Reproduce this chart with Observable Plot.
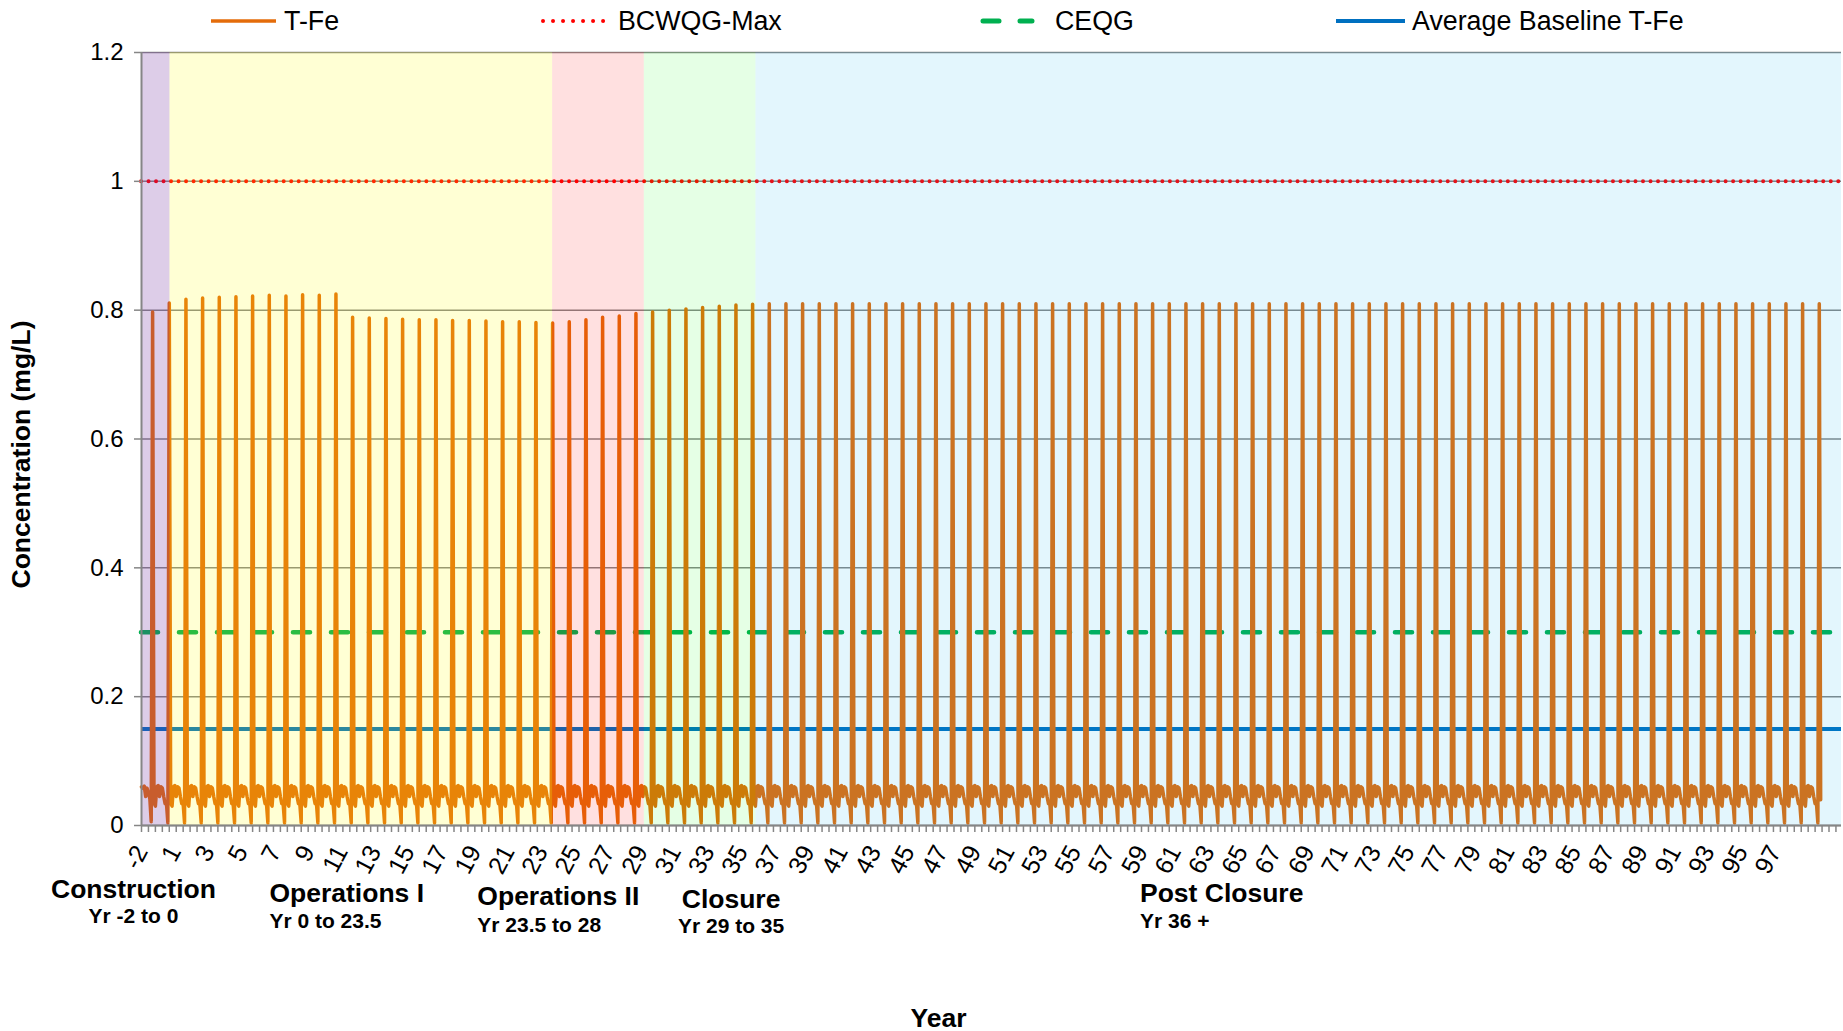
<!DOCTYPE html>
<html><head><meta charset="utf-8">
<script src="https://cdn.jsdelivr.net/npm/d3@7"></script>
<script src="https://cdn.jsdelivr.net/npm/@observablehq/plot@0.6"></script>
<style>
html,body{margin:0;padding:0;background:#fff;}
#wrap{position:relative;width:1843px;height:1031px;font-family:"Liberation Sans",Arial,sans-serif;}
#legend{position:absolute;left:0;top:0;}
#chart{position:absolute;left:0;top:0;}
</style></head><body><div id="wrap"><div id="chart"></div></div>
<script>
// ---- data ----
const seriesNames = ["T-Fe", "BCWQG-Max", "CEQG", "Average Baseline T-Fe"];
const bcwqgMax = 1.0;
const ceqg = 0.3;
const avgBaseline = 0.15;

// monthly T-Fe: months before the first spike
const leadIn = [0.060, 0.058, 0.061, 0.045, 0.058, 0.050, 0.042, 0.006];
// yearly spike peaks (one per year)
const peakValues = [
  0.797, 0.811, 0.817, 0.819, 0.820, 0.821, 0.822, 0.823, 0.822, 0.824, 0.823, 0.825,
  0.789, 0.788, 0.787, 0.786, 0.785, 0.785, 0.784, 0.784, 0.783, 0.782, 0.782, 0.781,
  0.780, 0.782, 0.785, 0.789, 0.791, 0.795,
  0.797, 0.800, 0.802, 0.804, 0.806, 0.808, 0.809,
  0.810, 0.810, 0.810, 0.810, 0.810, 0.810, 0.810, 0.810, 0.810, 0.810, 0.810, 0.810,
  0.810, 0.810, 0.810, 0.810, 0.810, 0.810, 0.810, 0.810, 0.810, 0.810, 0.810, 0.810,
  0.810, 0.810, 0.810, 0.810, 0.810, 0.810, 0.810, 0.810, 0.810, 0.810, 0.810, 0.810,
  0.810, 0.810, 0.810, 0.810, 0.810, 0.810, 0.810, 0.810, 0.810, 0.810, 0.810, 0.810,
  0.810, 0.810, 0.810, 0.810, 0.810, 0.810, 0.810, 0.810, 0.810, 0.810, 0.810, 0.810,
  0.810, 0.810, 0.810, 0.810
];
// monthly low-flow values between two spikes (11 months, ending in the pre-spike dip)
const cyclePattern = [0.035, 0.030, 0.060, 0.062, 0.045, 0.060, 0.058, 0.045, 0.034, 0.033, 0.004];
const tailValue = 0.040;

const phaseNames = ["Construction", "Operations I", "Operations II", "Closure", "Post Closure"];
const phaseYears = ["Yr -2 to 0", "Yr 0 to 23.5", "Yr 23.5 to 28", "Yr 29 to 35", "Yr 36 +"];
const phaseStart = [0, 20.5, 296, 362, 442.4];     // in months from chart start
const phaseEnd = [20.5, 296, 362, 442.4, 1224];
const phaseColors = ["#7030A0", "#FFFF00", "#FF0000", "#00FF00", "#00B0F0"];
const phaseOpacity = [0.24, 0.17, 0.12, 0.10, 0.11];

const xTickPos = [0, 24, 48, 72, 96, 120, 144, 168, 192, 216, 240, 264, 288, 312, 336, 360, 384, 408, 432, 456,
  480, 504, 528, 552, 576, 600, 624, 648, 672, 696, 720, 744, 768, 792, 816, 840, 864, 888, 912, 936,
  960, 984, 1008, 1032, 1056, 1080, 1104, 1128, 1152, 1176];
const xTickLabels = ["-2", "1", "3", "5", "7", "9", "11", "13", "15", "17", "19", "21", "23", "25", "27", "29",
  "31", "33", "35", "37", "39", "41", "43", "45", "47", "49", "51", "53", "55", "57", "59", "61", "63", "65",
  "67", "69", "71", "73", "75", "77", "79", "81", "83", "85", "87", "89", "91", "93", "95", "97"];
const yTicks = [0, 0.2, 0.4, 0.6, 0.8, 1, 1.2];
const yTickLabels = ["0", "0.2", "0.4", "0.6", "0.8", "1", "1.2"];

// ---- build monthly table ----
const tfeValues = [];
leadIn.forEach(v => tfeValues.push(v));
peakValues.forEach((p, k) => {
  tfeValues.push(p);
  if (k < peakValues.length - 1) cyclePattern.forEach(v => tfeValues.push(v));
});
tfeValues.push(tailValue);
const tfe = tfeValues.map((v, m) => ({m, v}));

const xLabelMap = new Map(xTickPos.map((p, i) => [p, xTickLabels[i]]));
const yLabelMap = new Map(yTicks.map((t, i) => [t, yTickLabels[i]]));
const minorTicks = d3.range(0, 1225, 5);

const gray = "#868686";
const FONT = '"Liberation Sans", Arial, sans-serif';

const phaseRects = phaseStart.map((s, i) =>
  Plot.rect([i], {x1: () => s, x2: () => phaseEnd[i], y1: () => 0, y2: () => 1.2,
    fill: phaseColors[i], fillOpacity: phaseOpacity[i], inset: 0}));

function phaseLabel(i, xm, anchor, dyName, dySub) {
  return [
    Plot.text([phaseNames[i]], {x: () => xm, frameAnchor: "bottom", dy: dyName, text: d => d,
      textAnchor: anchor, lineAnchor: "middle", fontWeight: "bold", fontSize: 26.5, fill: "black"}),
    Plot.text([phaseYears[i]], {x: () => xm, frameAnchor: "bottom", dy: dySub, text: d => d,
      textAnchor: anchor, lineAnchor: "middle", fontWeight: "bold", fontSize: 21, fill: "black"})
  ];
}

const chart = Plot.plot({
  width: 1843,
  height: 1031,
  marginLeft: 141,
  marginRight: 2,
  marginTop: 52,
  marginBottom: 206,
  style: {fontFamily: FONT, fontSize: "22px", color: "black", background: "white", overflow: "visible"},
  x: {domain: [0, 1224], label: null},
  y: {domain: [0, 1.2], label: null},
  marks: [
    Plot.gridY(yTicks, {stroke: gray, strokeOpacity: 1, strokeWidth: 1.5}),
    Plot.ruleY([avgBaseline], {stroke: "#0070C0", strokeWidth: 4}),
    Plot.ruleY([ceqg], {stroke: "#00B050", strokeWidth: 4.6, strokeDasharray: "17 21", strokeLinecap: "round"}),
    Plot.ruleY([bcwqgMax], {stroke: "#FF0000", strokeWidth: 4, strokeDasharray: "0.01 7.5", strokeLinecap: "round"}),
    Plot.line(tfe, {x: "m", y: "v", stroke: "#E46C0A", strokeWidth: 3.5, strokeLinejoin: "round"}),
    ...phaseRects,
    Plot.ruleX([0], {stroke: gray, strokeWidth: 2}),
    Plot.ruleY([0], {stroke: gray, strokeWidth: 2}),
    Plot.axisY(yTicks, {tickFormat: d => yLabelMap.get(d), tickSize: 7, tickPadding: 11, fontSize: 24, stroke: gray, strokeWidth: 1.5}),
    Plot.axisX(minorTicks, {tickFormat: () => "", tickSize: 7, stroke: gray, strokeWidth: 1.5}),
    Plot.axisX(xTickPos, {tickFormat: d => xLabelMap.get(d), tickSize: 0, tickPadding: 22, tickRotate: -62, fontSize: 25}),
    ...phaseLabel(0, -5.8, "middle", 63.6, 90.6),
    ...phaseLabel(1, 92.1, "start", 68, 95.5),
    ...phaseLabel(2, 241.8, "start", 71, 100),
    ...phaseLabel(3, 424.5, "middle", 74, 101),
    ...phaseLabel(4, 718.9, "start", 68, 96),
    Plot.text(["Concentration (mg/L)"], {frameAnchor: "left", dx: -120, dy: 15.5, rotate: -90, text: d => d,
      textAnchor: "middle", lineAnchor: "middle", fontWeight: "bold", fontSize: 26.5, fill: "black"}),
    Plot.text(["Year"], {frameAnchor: "bottom", dx: -53, dy: 193, text: d => d,
      textAnchor: "middle", lineAnchor: "middle", fontWeight: "bold", fontSize: 26.5, fill: "black"})
  ]
});
document.getElementById("chart").appendChild(chart);

// ---- legend ----
const lg = d3.select("#wrap").append("svg").attr("id", "legend").attr("width", 1843).attr("height", 46);
const legendItems = [
  {name: seriesNames[0], x1: 211, x2: 276, tx: 284, stroke: "#E46C0A", w: 3.5, dash: null, cap: "butt"},
  {name: seriesNames[1], x1: 543, x2: 609, tx: 618, stroke: "#FF0000", w: 4, dash: "0.01 10", cap: "round"},
  {name: seriesNames[2], x1: 983, x2: 1032, tx: 1055, stroke: "#00B050", w: 5, dash: "16 21", cap: "round"},
  {name: seriesNames[3], x1: 1336, x2: 1405, tx: 1412, stroke: "#0070C0", w: 4, dash: null, cap: "butt"}
];
legendItems.forEach(it => {
  lg.append("line").attr("x1", it.x1).attr("x2", it.x2).attr("y1", 21).attr("y2", 21)
    .attr("stroke", it.stroke).attr("stroke-width", it.w)
    .attr("stroke-dasharray", it.dash).attr("stroke-linecap", it.cap);
  lg.append("text").attr("x", it.tx).attr("y", 21).attr("dy", "0.35em")
    .attr("font-family", FONT).attr("font-size", 26.8).attr("fill", "black").text(it.name);
});
</script>
</body></html>
